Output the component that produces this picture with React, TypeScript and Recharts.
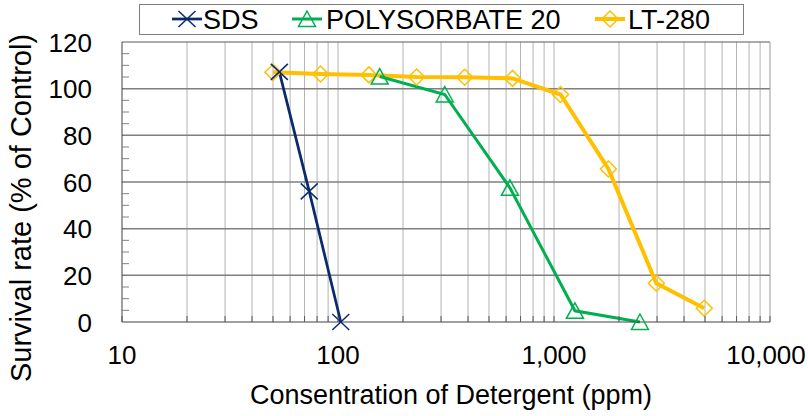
import React from "react";
import { LineChart, Line, XAxis, YAxis, ReferenceLine, Legend } from "recharts";

// concentration (ppm) / survival rate (% of control)
const sdsConc = [53.5, 73.6, 103];
const sdsSurvival = [107.2, 56, 0];
const polyConc = [156, 312, 625, 1250, 2500];
const polySurvival = [105.2, 97.5, 57.5, 4.8, 0];
const ltConc = [50, 83, 139, 231, 386, 643, 1072, 1786, 2977, 4961];
const ltSurvival = [107, 106.3, 105.9, 105, 104.9, 104.4, 97.5, 65.6, 16.6, 5.9];

const xMajorTicks = [10, 100, 1000, 10000];
const xMinorTicks = [
  20, 30, 40, 50, 60, 70, 80, 90,
  200, 300, 400, 500, 600, 700, 800, 900,
  2000, 3000, 4000, 5000, 6000, 7000, 8000, 9000,
];
const xTicks = [...xMajorTicks, ...xMinorTicks].sort((a, b) => a - b);
const xGrid = [...xMinorTicks, 100, 1000];
const yTicks = [0, 5, 10, 15, 20, 25, 30, 35, 40, 45, 50, 55, 60, 65, 70, 75, 80, 85, 90, 95, 100, 105, 110, 115, 120];
const yGrid = [20, 40, 60, 80, 100];

const NAVY = "#0b2a6e";
const GREEN = "#00b050";
const GOLD = "#ffc000";

const toPoints = (xs: number[], ys: number[]) => xs.map((x, i) => ({ x, y: ys[i] }));
const sdsData = toPoints(sdsConc, sdsSurvival);
const polyData = toPoints(polyConc, polySurvival);
const ltData = toPoints(ltConc, ltSurvival);

const XMark = ({ cx, cy }: { cx: number; cy: number }) => (
  <g stroke={NAVY} strokeWidth={1.5} fill="none">
    <line x1={cx - 8.5} y1={cy - 8} x2={cx + 8.5} y2={cy + 8} />
    <line x1={cx - 8.5} y1={cy + 8} x2={cx + 8.5} y2={cy - 8} />
  </g>
);

const Tri = ({ cx, cy }: { cx: number; cy: number }) => (
  <polygon
    points={`${cx},${cy - 8} ${cx + 8.5},${cy + 7.5} ${cx - 8.5},${cy + 7.5}`}
    stroke={GREEN}
    strokeWidth={1.5}
    fill="none"
  />
);

const Diamond = ({ cx, cy }: { cx: number; cy: number }) => (
  <polygon
    points={`${cx},${cy - 8} ${cx + 8},${cy} ${cx},${cy + 8} ${cx - 8},${cy}`}
    stroke={GOLD}
    strokeWidth={1.5}
    fill="none"
  />
);

const XTick = (props: any) => {
  const { x, y, payload } = props;
  const v = payload.value;
  return (
    <g>
      <line x1={x} x2={x} y1={y - 6} y2={y} stroke="#595959" />
      {xMajorTicks.includes(v) && (
        <text
          x={x}
          y={y + 42}
          dx={v === 10000 ? -4 : 0}
          textAnchor="middle"
          fontSize={26}
          fill="#000"
        >
          {v.toLocaleString("en-US")}
        </text>
      )}
    </g>
  );
};

const YTick = (props: any) => {
  const { x, y, payload } = props;
  const v = payload.value;
  if (v % 20 === 0) {
    return (
      <text x={x - 30} y={y + 9.5} textAnchor="end" fontSize={26} fill="#000">
        {v}
      </text>
    );
  }
  return <line x1={x} x2={x + 7} y1={y} y2={y} stroke="#808080" />;
};

const YTitle = (props: any) => {
  const { viewBox } = props;
  const cx = viewBox.x + 21;
  const cy = viewBox.y + viewBox.height / 2 + 26;
  return (
    <text
      x={cx}
      y={cy}
      transform={`rotate(-90 ${cx} ${cy})`}
      textAnchor="middle"
      dominantBaseline="central"
      fontSize={29}
      fill="#000"
    >
      Survival rate (% of Control)
    </text>
  );
};

const legendItems = [
  { name: "SDS", color: NAVY, width: 2.75, Marker: XMark, icon: 33, text: 64 },
  { name: "POLYSORBATE 20", color: GREEN, width: 3, Marker: Tri, icon: 153, text: 187 },
  { name: "LT-280", color: GOLD, width: 4, Marker: Diamond, icon: 456, text: 489 },
];

const renderLegend = () => (
  <svg width={605} height={31} style={{ display: "block" }}>
    <rect x={0.5} y={0.5} width={604} height={30} fill="#fff" stroke="#808080" />
    {legendItems.map(({ name, color, width, Marker, icon, text }) => (
      <g key={name}>
        <line x1={icon} x2={icon + 30} y1={15} y2={15} stroke={color} strokeWidth={width} />
        <Marker cx={icon + 15} cy={15} />
        <text x={text} y={24.5} fontSize={27} fill="#000">
          {name}
        </text>
      </g>
    ))}
  </svg>
);

export default function App() {
  return (
    <div
      style={{
        position: "absolute",
        left: 0,
        top: 0,
        width: 808,
        height: 416,
        background: "#fff",
        fontFamily: '"Liberation Sans", Arial, sans-serif',
      }}
    >
      <LineChart width={808} height={416} margin={{ top: 42, right: 38, bottom: 0, left: 0 }}>
        {xGrid.map((v) => (
          <ReferenceLine key={`gx${v}`} x={v} stroke="#b3b3b3" />
        ))}
        {yGrid.map((v) => (
          <ReferenceLine key={`gy${v}`} y={v} stroke="#7f7f7f" strokeWidth={1.5} />
        ))}
        <ReferenceLine y={120} stroke="#595959" />
        <ReferenceLine x={10000} stroke="#999" />
        <XAxis
          dataKey="x"
          type="number"
          scale="log"
          domain={[10, 10000]}
          allowDataOverflow
          ticks={xTicks}
          interval={0}
          tick={<XTick />}
          tickSize={0}
          tickMargin={0}
          tickLine={false}
          axisLine={{ stroke: "#404040" }}
          height={94}
          label={{
            value: "Consentration of Detergent (ppm)",
            position: "insideBottom",
            offset: 12,
            dx: 5,
            fontSize: 27,
            fill: "#000",
          }}
        />
        <YAxis
          type="number"
          domain={[0, 120]}
          ticks={yTicks}
          interval={0}
          tick={<YTick />}
          tickSize={0}
          tickMargin={0}
          tickLine={false}
          axisLine={{ stroke: "#404040" }}
          width={122}
          label={{ content: YTitle }}
        />
        <Legend
          layout="horizontal"
          verticalAlign="middle"
          align="center"
          content={renderLegend}
          wrapperStyle={{ left: 139, top: 4, width: 605, height: 31 }}
        />
        <Line
          data={ltData}
          dataKey="y"
          name="LT-280"
          stroke={GOLD}
          strokeWidth={4}
          dot={(p: any) => <Diamond key={`lt${p.index}`} cx={p.cx} cy={p.cy} />}
          activeDot={false}
          isAnimationActive={false}
        />
        <Line
          data={polyData}
          dataKey="y"
          name="POLYSORBATE 20"
          stroke={GREEN}
          strokeWidth={3}
          dot={(p: any) => <Tri key={`pl${p.index}`} cx={p.cx} cy={p.cy} />}
          activeDot={false}
          isAnimationActive={false}
        />
        <Line
          data={sdsData}
          dataKey="y"
          name="SDS"
          stroke={NAVY}
          strokeWidth={2.75}
          dot={(p: any) => <XMark key={`sd${p.index}`} cx={p.cx} cy={p.cy} />}
          activeDot={false}
          isAnimationActive={false}
        />
      </LineChart>
    </div>
  );
}
